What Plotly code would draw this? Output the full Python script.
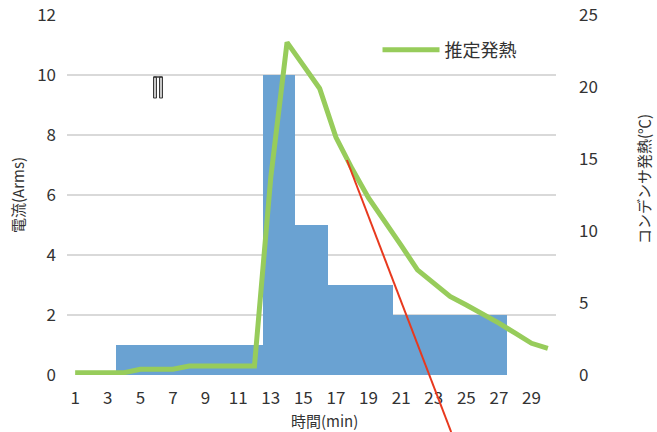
import plotly.graph_objects as go

# data
minutes = list(range(1, 31))
current = [0, 0, 0, 1, 1, 1, 1, 1, 1, 1, 1, 1, 10, 10, 5, 5, 3, 3, 3, 3,
           2, 2, 2, 2, 2, 2, 2, 0, 0, 0]
heat = [0.16, 0.16, 0.16, 0.16, 0.4, 0.4, 0.4, 0.62, 0.62, 0.62, 0.62, 0.62,
        13.7, 23.1, 21.5, 19.9, 16.5, 14.3, 12.3, 10.7, 9.0, 7.3, 6.4, 5.45,
        4.86, 4.27, 3.6, 2.9, 2.2, 1.85]
tangent_min = [17.67, 24.07]
tangent_heat = [14.93, -3.96]

W, H = 657, 432
ml, mr, mt, mb = 67, 101, 15, 0
plot_bottom = 375  # pixel row of the x axis
main_bottom = (H - plot_bottom) / (H - mt - mb)
heat_max = 25
x_range = [0.5, 30.5]

font = "Noto Sans CJK JP"
txt = "#333333"


def px(x):
    return (x - ml) / (W - ml - mr)


def py(y):
    return (H - mb - y) / (H - mt - mb)


fig = go.Figure()

fig.add_trace(go.Bar(x=minutes, y=current, width=1, marker=dict(color="#6aa2d2", line=dict(width=0)),
                     showlegend=False, yaxis="y"))
fig.add_trace(go.Scatter(x=minutes, y=heat, mode="lines", name="推定発熱",
                         line=dict(color="#97cc5b", width=5), yaxis="y2"))
# tangent drawn on a transparent full-height subplot so it can run past the axis
fig.add_trace(go.Scatter(x=tangent_min, y=tangent_heat, mode="lines", showlegend=False,
                         line=dict(color="#e8391e", width=2), xaxis="x3", yaxis="y3"))

axis_font = dict(family=font, size=17, color=txt)
title_font = dict(family=font, size=15, color=txt)

fig.update_layout(
    width=W, height=H,
    margin=dict(l=ml, r=mr, t=mt, b=mb),
    paper_bgcolor="white", plot_bgcolor="rgba(0,0,0,0)",
    font=dict(family=font, color=txt),
    bargap=0,
    xaxis=dict(range=x_range, tick0=1, dtick=2, showgrid=False, zeroline=False,
               ticks="", tickfont=axis_font, ticklabelstandoff=11, automargin=False,
               anchor="y"),
    yaxis=dict(domain=[main_bottom, 1], range=[0, 12], dtick=2, showgrid=True,
               gridcolor="#d9d9d9", gridwidth=1.5, zeroline=False, ticks="",
               tickfont=axis_font, ticklabelstandoff=10, automargin=False,
               title=dict(text="電流(Arms)", font=title_font, standoff=8)),
    yaxis2=dict(domain=[main_bottom, 1], range=[0, heat_max], dtick=5, overlaying="y",
                side="right", showgrid=False, zeroline=False, ticks="", automargin=False,
                tickfont=axis_font, ticklabelstandoff=22),
    xaxis3=dict(domain=[0, 1], range=x_range, anchor="y3", visible=False, automargin=False),
    yaxis3=dict(domain=[0, 1], range=[-heat_max * main_bottom / (1 - main_bottom), heat_max],
                anchor="x3", visible=False, automargin=False),
    legend=dict(x=0.635, y=0.916, xanchor="left", yanchor="middle", itemwidth=57,
                bgcolor="rgba(0,0,0,0)", font=dict(family=font, size=18, color=txt)),
)

# axis titles that sit off-centre in the original
fig.add_annotation(text="時間(min)", xref="paper", yref="paper", x=px(324), y=py(420),
                   xanchor="center", yanchor="middle", showarrow=False, font=title_font)
fig.add_annotation(text="コンデンサ発熱(℃)", xref="paper", yref="paper", x=px(643), y=py(179),
                   xanchor="center", yanchor="middle", textangle=-90, showarrow=False,
                   font=title_font)

# small "||" mark in the plot area
for x0, x1 in [(153.5, 156.5), (159.5, 162.5)]:
    fig.add_shape(type="rect", xref="paper", yref="paper", x0=px(x0), x1=px(x1),
                  y0=py(98), y1=py(77), line=dict(color="#3a3a3a", width=1), fillcolor="#c8c8c8")
fig.add_shape(type="line", xref="paper", yref="paper", x0=px(153.5), x1=px(162.5),
              y0=py(77), y1=py(77), line=dict(color="#3a3a3a", width=1.5))

# drop the page's default body margin so the figure sits at the window's corner
fig.write_html("out.html", config={"displayModeBar": False},
               post_script="document.body.style.margin='0';")
